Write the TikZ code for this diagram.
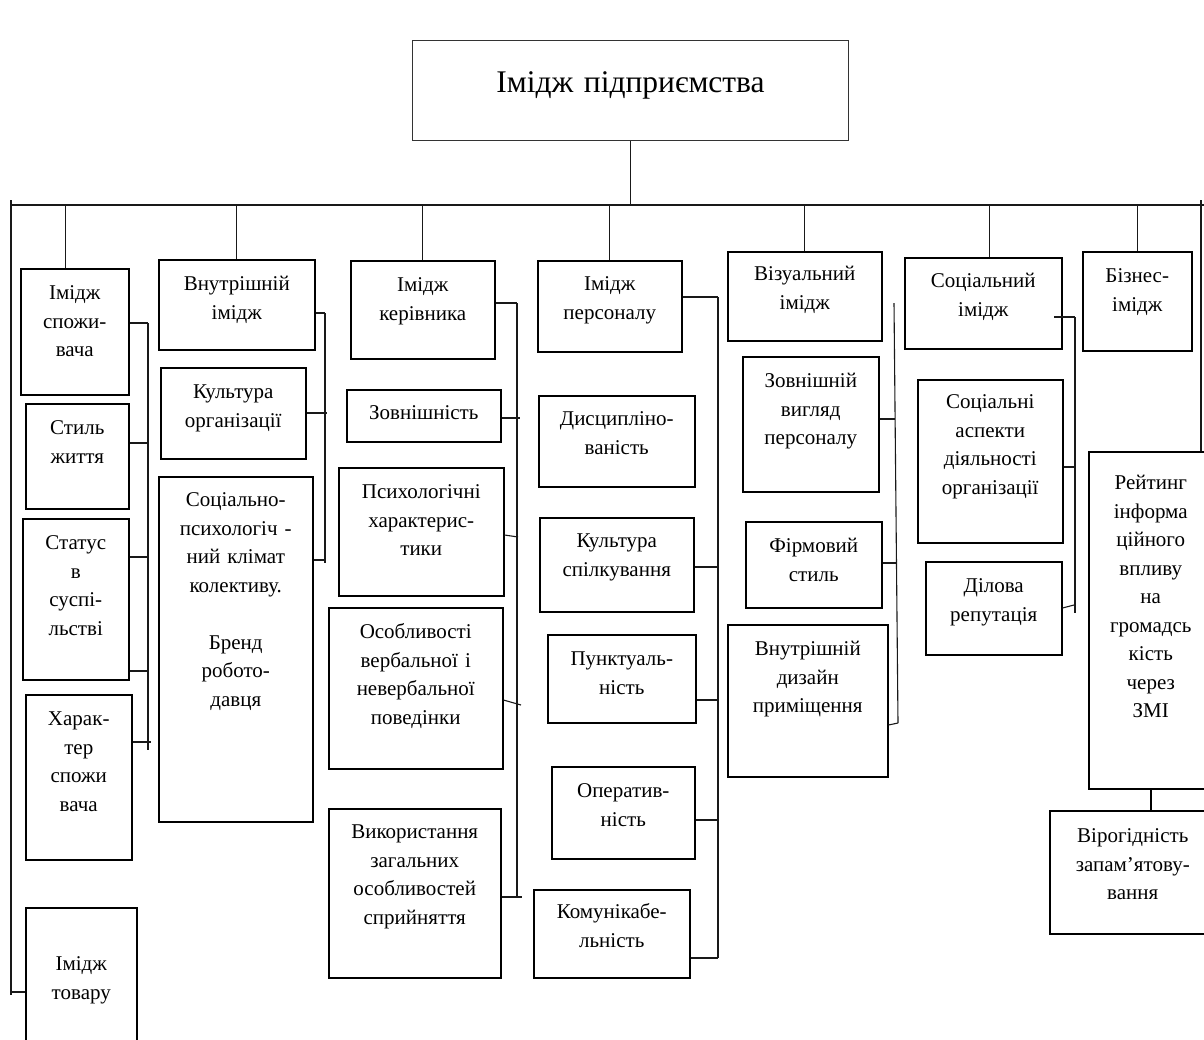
\documentclass[tikz,border=0pt]{standalone}
\usepackage{fontspec}
\setmainfont{Liberation Serif}
\usepackage{tikz}

\begin{document}
\begin{tikzpicture}[x=1pt,y=-1pt,
  bx/.style={draw=black,line width=1.5pt,inner sep=0pt,align=center,anchor=north west,
             text height=31pt,font=\fontsize{21}{28.5}\selectfont},
  ln/.style={line width=1.1pt,draw=black!90}]
\useasboundingbox (0,0) rectangle (1204,1039);
\clip (0,0) rectangle (1204,1039);

\node[bx,draw=black!80,line width=1.1pt,text width=436pt,text height=52pt,text depth=48pt,
      font=\fontsize{31.5}{36}\selectfont] (firm) at (412,40) {Імідж підприємства}; % title

%main bus
\coordinate (busL) at (10,205);
\coordinate (busR) at (1204,205);
\draw[ln](busL) to (busR);
\draw[ln](firm.south) to (firm.south |- busL);
\coordinate (lv) at (11,200);
\coordinate (lvb) at (11,995);
\draw[ln](lv) to (lvb); % left line
\coordinate (rv) at (1201,200);

%consumer column
\node[bx,text width=108pt,text depth=95pt] (cons) at (20,268) {Імідж\\спожи-\\вача};
\node[bx,text width=103pt,text depth=74pt] (life) at (25,403) {Стиль\\життя};
\node[bx,text width=106pt,text depth=130pt] (stat) at (22,518) {Статус\\в\\суспі-\\льстві};
\node[bx,text width=106pt,text depth=134pt] (char) at (25,694) {Харак-\\тер\\спожи\\вача};
\node[bx,text width=111pt,text height=63pt,text depth=90pt] (prod) at (25,907) {Імідж\\товару};
\coordinate (b1t) at (148,323);
\coordinate (b1b) at (148,750);
\draw[ln](b1t) to (b1b);
\draw[ln](cons.east |- b1t) to (b1t);
\draw[ln](life.east |- 0,443) to (b1t |- 0,443);
\draw[ln](stat.east |- 0,557) to (b1t |- 0,557);
\draw[ln](stat.east |- 0,671) to (b1t |- 0,671);
\draw[ln](char.east |- 0,742) to (151,742);
\draw[ln]([xshift=-9pt]cons.north) to ([xshift=-9pt]cons.north |- busL);
\draw[ln](prod.west |- 0,992) to (lvb |- 0,992);

%internal column
\node[bx,text width=156pt,text depth=59pt] (intr) at (158,259) {Внутрішній\\імідж};
\node[bx,text width=145pt,text depth=60pt] (corp) at (160,367) {Культура\\організації};
\node[bx,text width=154pt,text height=30pt,text depth=315pt] (clim) at (158,476)
  {Соціально-\\психологіч -\\ний клімат\\колективу.\\[28.5pt]Бренд\\робото-\\давця};
\coordinate (b2t) at (325,313);
\coordinate (b2b) at (325,563);
\draw[ln](b2t) to (b2b);
\draw[ln](intr.east |- b2t) to (b2t);
\draw[ln](corp.east |- 0,413) to (327,413);
\draw[ln](clim.east |- 0,560) to (b2t |- 0,560);
\draw[ln](intr.north) to (intr.north |- busL);

%manager column
\node[bx,text width=144pt,text depth=67pt] (mgr) at (350,260) {Імідж\\керівника};
\node[bx,text width=154pt,text height=30pt,text depth=22pt] (look) at (346,389) {Зовнішність};
\node[bx,text width=165pt,text depth=97pt] (psy) at (338,467) {Психологічні\\характерис-\\тики};
\node[bx,text width=174pt,text depth=130pt] (verb) at (328,607) {Особливості\\вербальної і\\невербальної\\поведінки};
\node[bx,text width=172pt,text height=30pt,text depth=139pt] (perc) at (328,808) {Використання\\загальних\\особливостей\\сприйняття};
\coordinate (b3t) at (517,303);
\coordinate (b3b) at (517,897);
\draw[ln](b3t) to (b3b);
\draw[ln](mgr.east |- b3t) to (b3t);
\draw[ln](look.east |- 0,418) to (520,418);
\draw[ln](psy.east |- 0,535) to (518,537);
\draw[ln](verb.east |- 0,700) to (521,705);
\draw[ln](perc.east |- b3b) to (522,897);
\draw[ln](mgr.north) to (mgr.north |- busL);

%personnel column
\node[bx,text width=144pt,text height=30pt,text depth=61pt] (pers) at (537,260) {Імідж\\персоналу};
\node[bx,text width=156pt,text height=30pt,text depth=61pt] (disc) at (538,395) {Дисципліно-\\ваність};
\node[bx,text width=154pt,text height=30pt,text depth=64pt] (comm) at (539,517) {Культура\\спілкування};
\node[bx,text width=148pt,text depth=57pt] (punc) at (547,634) {Пунктуаль-\\ність};
\node[bx,text width=143pt,text depth=61pt] (oper) at (551,766) {Оператив-\\ність};
\node[bx,text width=156pt,text height=29pt,text depth=59pt] (soc) at (533,889) {Комунікабе-\\льність};
\coordinate (b4t) at (718,297);
\coordinate (b4b) at (718,958);
\draw[ln](b4t) to (b4b);
\draw[ln](pers.east |- b4t) to (b4t);
\draw[ln](comm.east |- 0,567) to (b4t |- 0,567);
\draw[ln](punc.east |- 0,700) to (b4t |- 0,700);
\draw[ln](oper.east |- 0,820) to (b4t |- 0,820);
\draw[ln](soc.east |- b4b) to (b4b);
\draw[ln](pers.north) to (pers.north |- busL);

%visual column
\node[bx,text width=154pt,text height=29pt,text depth=60pt] (vis) at (727,251) {Візуальний\\імідж};
\node[bx,text width=136pt,text depth=104pt] (outw) at (742,356) {Зовнішній\\вигляд\\персоналу};
\node[bx,text width=136pt,text depth=55pt] (frm) at (745,521) {Фірмовий\\стиль};
\node[bx,text width=160pt,text depth=121pt] (dsgn) at (727,624) {Внутрішній\\дизайн\\приміщення};
\coordinate (b5t) at (894,303);
\coordinate (b5b) at (898,723);
\draw[ln](b5t) to (b5b);
\draw[ln](outw.east |- 0,419) to (895,419);
\draw[ln](frm.east |- 0,563) to (897,563);
\draw[ln](dsgn.east |- 0,725) to (b5b);
\draw[ln](vis.north) to (vis.north |- busL);

%social column
\node[bx,text width=157pt,text height=30pt,text depth=61pt] (soci) at (904,257) {Соціальний\\імідж};
\node[bx,text width=145pt,text height=29pt,text depth=134pt] (asp) at (917,379) {Соціальні\\аспекти\\діяльності\\організації};
\node[bx,text width=136pt,text depth=62pt] (rep) at (925,561) {Ділова\\репутація};
\coordinate (b6t) at (1075,317);
\coordinate (b6b) at (1075,613);
\draw[ln](b6t) to (b6b);
\draw[ln](1054,317) to (b6t);
\draw[ln](asp.east |- 0,467) to (b6t |- 0,467);
\draw[ln](rep.east |- 0,608) to (1074,605);
\draw[ln]([xshift=6pt]soci.north) to ([xshift=6pt]soci.north |- busL);

%business column
\node[bx,text width=109pt,text depth=68pt] (biz) at (1082,251) {Бізнес-\\імідж};
\node[bx,text width=124pt,text height=38pt,text depth=299pt] (rate) at (1088,451)
  {Рейтинг\\інформа\\ційного\\впливу\\на\\громадсь\\кість\\через\\ЗМІ};
\node[bx,text width=166pt,text height=32pt,text depth=91pt] (rel) at (1049,810) {Вірогідність\\запам’ятову-\\вання};
\draw[ln](biz.north) to (biz.north |- busL);
\draw[ln](rv) to (rv |- rate.north);
\draw[line width=1.5pt](rate.south) to (rate.south |- rel.north);

\end{tikzpicture}
\end{document}
